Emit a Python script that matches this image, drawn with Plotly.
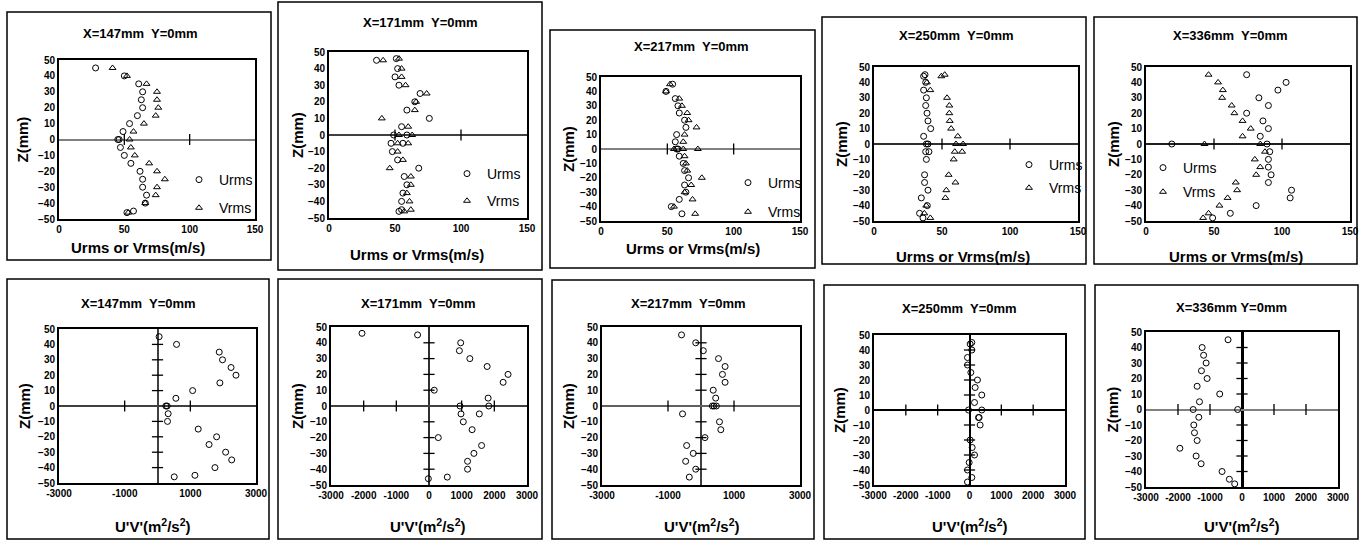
import plotly.graph_objects as go

W, H = 1362, 541

# ---------------- DATA ----------------
titles = ["X=147mm  Y=0mm", "X=171mm  Y=0mm", "X=217mm  Y=0mm", "X=250mm  Y=0mm", "X=336mm  Y=0mm"]
titles_bottom = ["X=147mm  Y=0mm", "X=171mm  Y=0mm", "X=217mm  Y=0mm", "X=250mm  Y=0mm", "X=336mm Y=0mm"]
top_xtitle = "Urms or Vrms(m/s)"
bottom_xtitle = "U'V'(m<sup>2</sup>/s<sup>2</sup>)"
ytitle = "Z(mm)"

top_xticks = [0, 50, 100, 150]
z_ticks = [-50, -40, -30, -20, -10, 0, 10, 20, 30, 40, 50]
bottom_xticks_a = [-3000, -1000, 1000, 3000]
bottom_xticks_b = [-3000, -2000, -1000, 0, 1000, 2000, 3000]

# X=147
p1_u_z = [45, 40, 35, 30, 25, 20, 15, 10, 5, 0, 0, -5, -10, -15, -20, -25, -30, -35, -40, -45, -46]
p1_u = [28, 50, 61, 64, 63, 64, 60, 54, 49, 45, 46, 47, 50, 55, 62, 64, 64, 67, 66, 57, 52]
p1_v_z = [45, 40, 35, 30, 25, 20, 15, 10, 5, 0, -5, -10, -15, -20, -25, -30, -35, -40, -46]
p1_v = [41, 52, 67, 75, 75, 76, 74, 65, 57, 54, 55, 58, 69, 75, 81, 75, 74, 66, 53]
# X=171
p2_z = [46, 45, 40, 35, 30, 25, 20, 15, 10, 5, 0, 0, -5, -5, -10, -15, -20, -25, -30, -35, -40, -45, -46]
p2_u = [51, 36, 52, 50, 53, 69, 65, 59, 76, 55, 49, 59, 47, 56, 48, 52, 68, 57, 59, 56, 55, 55, 53]
p2_v = [53, 41, 55, 55, 58, 74, 66, 65, 40, 60, 53, 63, 52, 60, 52, 56, 46, 62, 62, 59, 61, 62, 57]
# X=217
p3_u_z = [45, 40, 35, 30, 25, 20, 15, 10, 5, 0, 0, -5, -10, -15, -20, -25, -30, -35, -40, -45]
p3_u = [54, 49, 56, 58, 59, 63, 64, 57, 56, 57, 58, 59, 62, 63, 66, 63, 64, 59, 53, 61]
p3_v_z = [45, 40, 35, 30, 25, 20, 15, 10, 5, 0, 0, 0, -5, -10, -15, -20, -25, -30, -35, -40, -45]
p3_v = [52, 49, 59, 61, 65, 66, 72, 63, 62, 55, 62, 73, 63, 64, 65, 76, 68, 63, 69, 55, 71]
# X=250
p4_z = [45, 44, 40, 35, 30, 25, 20, 15, 10, 5, 0, 0, -5, -5, -10, -20, -25, -30, -35, -40, -45, -48]
p4_u = [37.5, 36.5, 38, 36.5, 38.5, 38, 39, 39.7, 41.7, 36.5, 38.5, 39.7, 38, 40.4, 38.5, 37.2, 37.2, 39.7, 34.8, 39.2, 33.5, 36]
p4_v = [52, 49.5, 38.9, 41.4, 53.7, 55.4, 55.4, 55.7, 56.7, 61.6, 60.3, 65.5, 59.4, 64.8, 58.6, 54.9, 59.9, 53.2, 52.5, 38.4, 37, 41.4]
# X=336
p5_u_z = [45, 40, 35, 30, 25, 20, 15, 10, 5, 0, 0, -5, -10, -15, -20, -25, -30, -35, -40, -45, -48]
p5_u = [74, 103, 97, 83, 90, 74, 86, 90, 84, 19, 89, 91, 90, 90, 92, 90, 107, 106, 81, 62, 49]
p5_v_z = [45, 40, 35, 30, 25, 20, 15, 10, 5, 0, 0, -5, -10, -15, -20, -25, -30, -35, -40, -45, -48]
p5_v = [46, 53, 56.5, 56, 63, 65, 71, 77, 71, 43, 84, 87.5, 80, 84, 81, 66, 67, 60, 54, 46, 42]

# U'V' profiles
b1_z = [45, 40, 35, 30, 25, 20, 15, 10, 5, 0, 0, -5, -10, -15, -20, -25, -30, -35, -40, -45, -46]
b1_uv = [50, 580, 1880, 1980, 2240, 2390, 1900, 1070, 560, 254, 295, 325, 305, 1240, 1800, 1570, 2075, 2260, 1750, 1140, 510]
b2_z = [46, 45, 40, 35, 30, 25, 20, 15, 10, 5, 0, 0, -5, -5, -10, -15, -20, -25, -30, -35, -40, -45, -46]
b2_uv = [-2050, -350, 970, 930, 1250, 1780, 2420, 2270, 160, 1810, 950, 1830, 980, 1540, 1050, 1320, 285, 1610, 1375, 1180, 1180, 560, -20]
b3_z = [45, 40, 35, 30, 25, 20, 15, 10, 5, 0, 0, 0, -5, -10, -15, -20, -25, -30, -35, -40, -45]
b3_uv = [-590, -160, 70, 530, 730, 650, 730, 370, 445, 345, 395, 465, -560, 560, 600, 120, -435, -235, -465, -160, -355]
b4_z = [45, 44, 40, 35, 30, 25, 20, 15, 10, 5, 0, 0, -5, -5, -10, -20, -25, -30, -35, -40, -45, -48]
b4_uv = [73, 21, 73, -63, -63, 42, 250, 177, 386, 157, -31, 386, 303, 282, 334, 21, 84, 157, -10, -63, 73, -63]
b5_z = [45, 40, 35, 30, 25, 20, 15, 10, 5, 0, 0, -5, -10, -15, -20, -25, -30, -35, -40, -45, -48]
b5_uv = [-436, -1246, -1200, -1121, -1267, -1090, -1402, -696, -1329, -1526, -135, -1350, -1506, -1485, -1402, -1942, -1433, -1277, -623, -395, -228]

top_data = [
    (p1_u_z, p1_u, p1_v_z, p1_v),
    (p2_z, p2_u, p2_z, p2_v),
    (p3_u_z, p3_u, p3_v_z, p3_v),
    (p4_z, p4_u, p4_z, p4_v),
    (p5_u_z, p5_u, p5_v_z, p5_v),
]
bottom_data = [(b1_z, b1_uv), (b2_z, b2_uv), (b3_z, b3_uv), (b4_z, b4_uv), (b5_z, b5_uv)]
bottom_xticks = [bottom_xticks_a, bottom_xticks_b, bottom_xticks_a, bottom_xticks_b, bottom_xticks_b]

# ---------------- LAYOUT (pixel geometry) ----------------
top_geo = [
    dict(box=(7, 12, 271, 260), plot=(59, 60, 255, 219), tx=140, ty=33, xtx=138, xty=247, ytx=22, leg=(200, 174, 25), zc="#808080", zw=2),
    dict(box=(278, 2, 542, 270), plot=(329, 52, 527, 218), tx=420, ty=23, xtx=417, xty=255, ytx=297, leg=(468, 168, 24), zc="#404040", zw=1.5),
    dict(box=(550, 30, 815, 268), plot=(601, 77, 800, 221), tx=692, ty=47, xtx=693, xty=248, ytx=569, leg=(749, 177, 26), zc="#808080", zw=2),
    dict(box=(822, 17, 1086, 264), plot=(874, 67, 1078, 221), tx=956, ty=35, xtx=963, xty=256, ytx=841, leg=(1030, 159, 20), zc="#303030", zw=1.5),
    dict(box=(1094, 17, 1357, 264), plot=(1146, 67, 1350, 221), tx=1230, ty=35, xtx=1236, xty=256, ytx=1113, leg=(1164, 162, 21), zc="#202020", zw=1.5),
]
bottom_geo = [
    dict(box=(7, 279, 269, 539), plot=(59, 329, 256, 483), tx=138, ty=303, xtx=153, xty=525, ytx=24, vc="#404040", vw=1.5, hc="#404040", hw=1.5),
    dict(box=(278, 279, 542, 539), plot=(331, 327, 527, 485), tx=418, ty=303, xtx=428, xty=525, ytx=297, vc="#303030", vw=1.5, hc="#404040", hw=1.5),
    dict(box=(552, 280, 814, 539), plot=(602, 327, 800, 485), tx=688, ty=303, xtx=702, xty=525, ytx=568, vc="#404040", vw=1.5, hc="#606060", hw=2),
    dict(box=(824, 285, 1085, 539), plot=(874, 335, 1065, 485), tx=959, ty=308, xtx=970, xty=525, ytx=839, vc="#000000", vw=1.5, hc="#000000", hw=1.5),
    dict(box=(1095, 285, 1358, 539), plot=(1146, 332, 1338, 487), tx=1231, ty=307, xtx=1242, xty=525, ytx=1112, vc="#000000", vw=2.5, hc="#808080", hw=2),
]

FONT = "Liberation Sans, Arial, sans-serif"


def px(x):
    return x / W


def py(y):
    return 1 - y / H


fig = go.Figure()
layout = {}
shapes = []
annotations = []


def add_axes(i, plot, xrange, xticks, xzero, yzero):
    x0, y0, x1, y1 = plot
    common = dict(showgrid=False, showline=True, linecolor="black", linewidth=2, mirror=True,
                  ticks="", tickfont=dict(family=FONT, size=10, color="black", weight="bold"),
                  fixedrange=True, automargin=False)
    layout[f"xaxis{i}"] = dict(domain=[px(x0), px(x1)], anchor=f"y{i}", range=xrange,
                               tickvals=xticks, ticktext=[str(t) for t in xticks],
                               zeroline=xzero is not None,
                               zerolinecolor=(xzero or ("black", 1))[0], zerolinewidth=(xzero or ("black", 1))[1],
                               **common)
    layout[f"yaxis{i}"] = dict(domain=[py(y1), py(y0)], anchor=f"x{i}", range=[-50, 50],
                               tickvals=z_ticks, zeroline=True,
                               zerolinecolor=yzero[0], zerolinewidth=yzero[1], **common)


def add_frame(g, title, xtitle):
    bx0, by0, bx1, by1 = g["box"]
    shapes.append(dict(type="rect", xref="paper", yref="paper", x0=px(bx0), x1=px(bx1),
                       y0=py(by1), y1=py(by0), line=dict(color="black", width=1.5), layer="below"))
    annotations.append(dict(text=title, x=px(g["tx"]), y=py(g["ty"]), xref="paper", yref="paper",
                            showarrow=False, xanchor="center", yanchor="middle",
                            font=dict(family=FONT, size=13, color="black", weight="bold")))
    annotations.append(dict(text=xtitle, x=px(g["xtx"]), y=py(g["xty"]), xref="paper", yref="paper",
                            showarrow=False, xanchor="center", yanchor="middle",
                            font=dict(family=FONT, size=15, color="black", weight="bold")))
    py0, py1 = g["plot"][1], g["plot"][3]
    annotations.append(dict(text=ytitle, x=px(g["ytx"]), y=py((py0 + py1) / 2), xref="paper", yref="paper",
                            showarrow=False, xanchor="center", yanchor="middle", textangle=-90,
                            font=dict(family=FONT, size=15, color="black", weight="bold")))


circle = dict(symbol="circle-open", size=6, color="black", line=dict(width=1, color="black"))
tri = dict(symbol="triangle-up-open", size=6, color="black", line=dict(width=1, color="black"))
tickmark_v = dict(symbol="line-ns", size=8, color="black", line=dict(width=1.3, color="black"))
tickmark_h = dict(symbol="line-ew", size=8, color="black", line=dict(width=1.3, color="black"))

# top row
for k in range(5):
    i = k + 1
    g = top_geo[k]
    uz, u, vz, v = top_data[k]
    add_axes(i, g["plot"], [0, 150], top_xticks, None, (g["zc"], g["zw"]))
    add_frame(g, titles[k], top_xtitle)
    legname = "legend" if k == 0 else f"legend{k + 1}"
    inner = [t for t in top_xticks if 0 < t < 150]
    fig.add_trace(go.Scatter(x=inner, y=[0] * len(inner), mode="markers", marker=tickmark_v,
                             xaxis=f"x{i}", yaxis=f"y{i}", showlegend=False, hoverinfo="skip"))
    fig.add_trace(go.Scatter(x=u, y=uz, mode="markers", marker=circle, name="Urms",
                             xaxis=f"x{i}", yaxis=f"y{i}", legend=legname, legendgroup=f"u{i}"))
    fig.add_trace(go.Scatter(x=v, y=vz, mode="markers", marker=tri, name="Vrms",
                             xaxis=f"x{i}", yaxis=f"y{i}", legend=legname, legendgroup=f"v{i}"))
    lx, ly, gap = g["leg"]
    layout[legname] = dict(x=px(lx - 21), y=py(ly - 10), xanchor="left", yanchor="top",
                           bgcolor="rgba(0,0,0,0)", borderwidth=0,
                           font=dict(family=FONT, size=14, color="black"),
                           tracegroupgap=max(gap - 18, 0), itemclick=False, itemdoubleclick=False)

# bottom row
for k in range(5):
    i = k + 6
    g = bottom_geo[k]
    z, uv = bottom_data[k]
    xt = bottom_xticks[k]
    add_axes(i, g["plot"], [-3000, 3000], xt, (g["vc"], g["vw"]), (g["hc"], g["hw"]))
    add_frame(g, titles_bottom[k], bottom_xtitle)
    inner_x = [t for t in range(-2000, 3000, 1000) if t != 0 and (t in xt or len(xt) > 4)]
    inner_z = [t for t in z_ticks if -50 < t < 50 and t != 0]
    fig.add_trace(go.Scatter(x=inner_x, y=[0] * len(inner_x), mode="markers", marker=tickmark_v,
                             xaxis=f"x{i}", yaxis=f"y{i}", showlegend=False, hoverinfo="skip"))
    fig.add_trace(go.Scatter(x=[0] * len(inner_z), y=inner_z, mode="markers", marker=tickmark_h,
                             xaxis=f"x{i}", yaxis=f"y{i}", showlegend=False, hoverinfo="skip"))
    fig.add_trace(go.Scatter(x=uv, y=z, mode="markers", marker=circle, name="U'V'",
                             xaxis=f"x{i}", yaxis=f"y{i}", showlegend=False))

fig.update_layout(template="none", width=W, height=H,
                  margin=dict(l=0, r=0, t=0, b=0, pad=0, autoexpand=False),
                  paper_bgcolor="white", plot_bgcolor="white",
                  shapes=shapes, annotations=annotations, showlegend=True, **layout)

fig.write_html("out.html", config={"displayModeBar": False})
